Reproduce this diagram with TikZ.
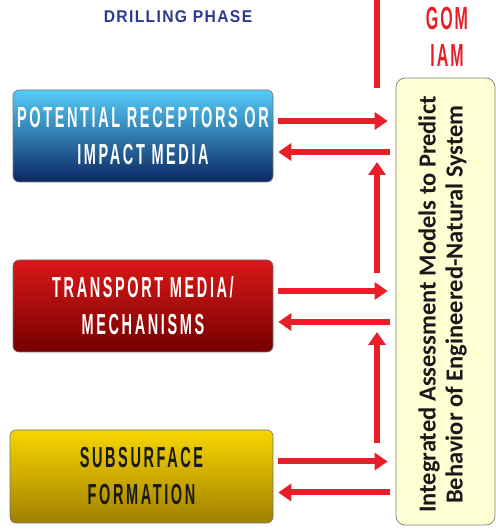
\documentclass[tikz,border=0pt]{standalone}
\usepackage{fontspec}
\usetikzlibrary{arrows.meta,calc}
\newfontfamily\condfont[FakeStretch=0.5,LetterSpace=9]{Liberation Sans}
\newfontfamily\gomfont[FakeStretch=0.5,LetterSpace=6]{Liberation Sans}
\newfontfamily\headfont[FakeStretch=0.92,LetterSpace=8]{Liberation Sans}
\newfontfamily\iamfont{Carlito}
\definecolor{arrred}{RGB}{232,30,40}
\definecolor{navy}{RGB}{45,58,140}
\definecolor{bluetop}{RGB}{85,205,248}
\definecolor{bluemid}{RGB}{22,100,172}
\definecolor{bluebot}{RGB}{10,38,98}
\definecolor{redtop}{RGB}{218,24,24}
\definecolor{redmid}{RGB}{192,4,4}
\definecolor{redbot}{RGB}{118,0,0}
\definecolor{yeltop}{RGB}{248,214,0}
\definecolor{yelmid}{RGB}{228,182,0}
\definecolor{yelbot}{RGB}{160,128,0}
\definecolor{iamfill}{RGB}{255,255,212}
\begin{document}
\begin{tikzpicture}[x=1pt,y=1pt,
  box/.style={rounded corners=6pt, draw=black!55, line width=0.6pt,
    minimum width=260pt, minimum height=92pt, align=center, inner sep=0pt,
    font=\condfont\bfseries\fontsize{29}{37}\selectfont},
  arr/.style={draw=arrred, line width=6pt, -{Triangle[length=13pt,width=17pt]}},
  redline/.style={draw=arrred, line width=6pt}]
\useasboundingbox (0,0) rectangle (496,531);
% title texts
\node[text=navy, font=\headfont\bfseries\fontsize{17}{19}\selectfont] (title) at (178,514) {DRILLING PHASE};
\node[text=arrred, align=center, font=\gomfont\bfseries\fontsize{32}{37}\selectfont] (gom) at (447,494) {GOM\\IAM};
% boxes
\node[box, top color=bluetop, middle color=bluemid, bottom color=bluebot, text=white] (blue) at (143,395) {POTENTIAL RECEPTORS OR\\IMPACT MEDIA};
\node[box, top color=redtop, middle color=redmid, bottom color=redbot, text=white] (red) at (143,225) {TRANSPORT MEDIA/\\MECHANISMS};
\node[box, minimum width=263pt, minimum height=93pt, top color=yeltop, middle color=yelmid, bottom color=yelbot, text=black!90] (yel) at (141.5,54.5) {SUBSURFACE\\FORMATION};
\node[rounded corners=9pt, draw=black!50, line width=0.7pt, fill=iamfill,
  minimum width=99pt, minimum height=447pt, inner sep=0pt] (iam) at (445.5,229.5) {};
\node[rotate=90, align=center, text=black!90, font=\iamfont\bfseries\fontsize{24.5}{27}\selectfont] (iamtext) at ([xshift=-3pt,yshift=-3pt]iam.center) {Integrated Assessment Models to Predict\\Behavior of Engineered-Natural System};
% horizontal arrows
\foreach \b in {blue,red,yel}{
  \draw[arr] ($(\b.east)+(5,15)$) -- ($(\b.east -| iam.west)+(-8,15)$);
  \draw[arr] ($(\b.east -| iam.west)+(-6,-16)$) -- ($(\b.east)+(5,-16)$);
}
% vertical lines
\coordinate (t1) at (377,531);
\coordinate (t2) at (377,443);
\draw[redline] (t1) -- (t2);
\coordinate (v1s) at (377,258);
\coordinate (v1e) at (377,369);
\draw[arr] (v1s) -- (v1e);
\coordinate (v2s) at (377,88);
\coordinate (v2e) at (377,199);
\draw[arr] (v2s) -- (v2e);
\end{tikzpicture}
\end{document}
